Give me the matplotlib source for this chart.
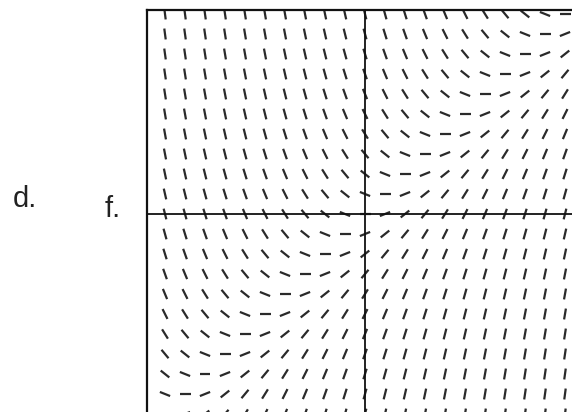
import numpy as np
import matplotlib.pyplot as plt
from matplotlib.collections import LineCollection

# grid points of the slope field (dy/dx = x - y)
x_vals = [-4.0, -3.6, -3.2, -2.8, -2.4, -2.0, -1.6, -1.2, -0.8, -0.4, 0.0,
          0.4, 0.8, 1.2, 1.6, 2.0, 2.4, 2.8, 3.2, 3.6, 4.0]
y_vals = [-4.0, -3.6, -3.2, -2.8, -2.4, -2.0, -1.6, -1.2, -0.8, -0.4, 0.0,
          0.4, 0.8, 1.2, 1.6, 2.0, 2.4, 2.8, 3.2, 3.6, 4.0]


def slope(x, y):
    return x - y


W, H = 572, 412
fig = plt.figure(figsize=(W / 100, H / 100), dpi=100)

# 50 px per unit, origin at (365, 214) px
scale = 50.0
x0, y0 = 365, 214
xlim = (-4.36, 4.36)
ylim = (-4.08, 4.08)
left = x0 + xlim[0] * scale
top = y0 - ylim[1] * scale
w = (xlim[1] - xlim[0]) * scale
h = (ylim[1] - ylim[0]) * scale
ax = fig.add_axes([left / W, (H - top - h) / H, w / W, h / H])
ax.set_xlim(*xlim)
ax.set_ylim(*ylim)
ax.set_xticks([])
ax.set_yticks([])
for sp in ax.spines.values():
    sp.set_linewidth(1.6)
    sp.set_color('#111111')

# short segments
seg_len = 0.22
segs = []
for x in x_vals:
    for y in y_vals:
        m = slope(x, y)
        dx = seg_len / 2 / np.sqrt(1 + m * m)
        dy = m * dx
        segs.append([(x - dx, y - dy), (x + dx, y + dy)])
ax.add_collection(LineCollection(segs, colors='#2a2a2a', linewidths=1.6))

# axes through the origin
ax.axhline(0, color='#111111', lw=1.3)
ax.axvline(0, color='#111111', lw=1.3)

fig.text(13 / W, 1 - 207 / H, 'd.', fontsize=21, family='Liberation Sans',
         color='#222222', ha='left', va='baseline')
fig.text(105 / W, 1 - 217 / H, 'f.', fontsize=21, family='Liberation Sans',
         color='#222222', ha='left', va='baseline')

fig.savefig('out.png', dpi=100)
